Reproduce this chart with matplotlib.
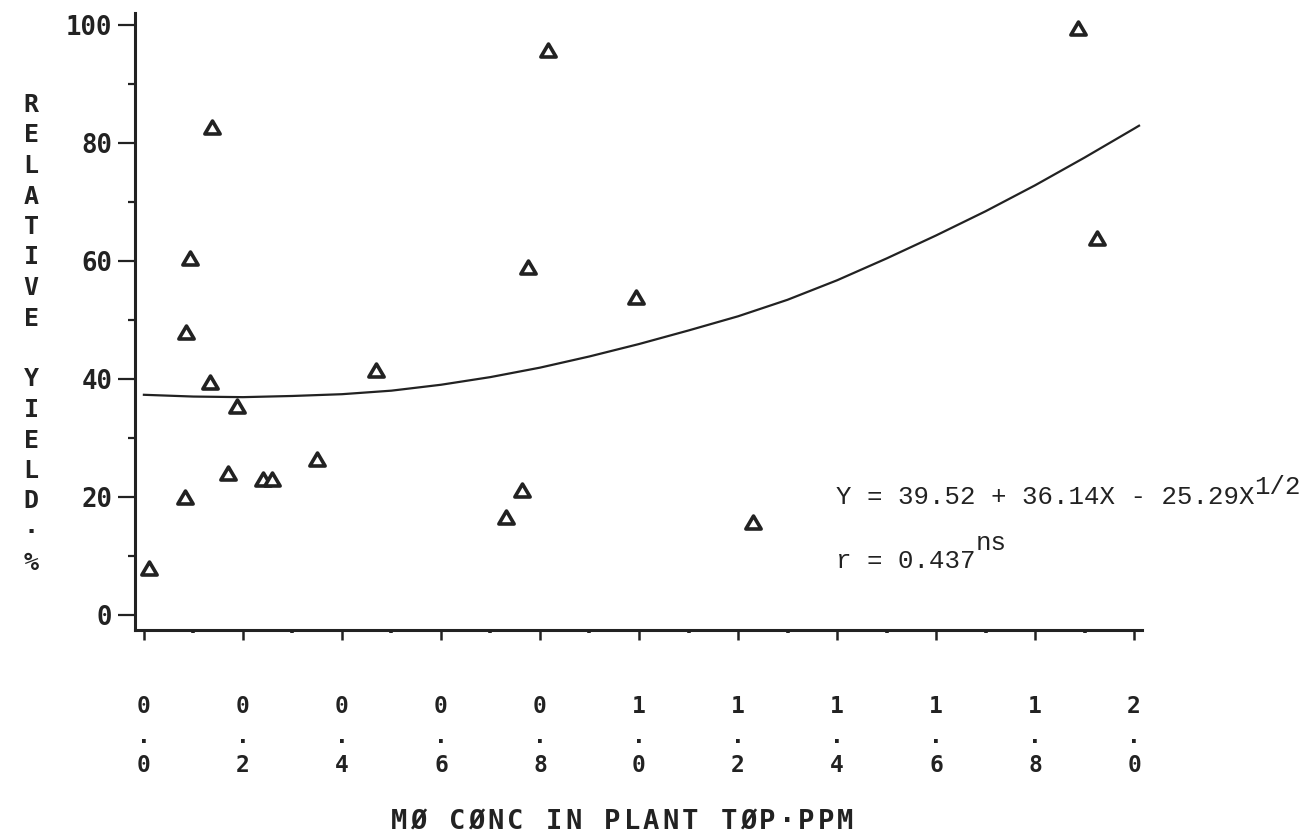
import matplotlib
matplotlib.use("Agg")
import matplotlib.pyplot as plt
from matplotlib.path import Path

# ---- data ----
mo_conc = [0.011, 0.083, 0.085, 0.094, 0.133, 0.137, 0.170, 0.188, 0.240, 0.258,
           0.349, 0.468, 0.732, 0.763, 0.775, 0.817, 0.993, 1.230, 1.886, 1.925]
rel_yield = [8.0, 20.0, 48.1, 60.5, 39.6, 82.8, 24.1, 35.5, 23.1, 23.1,
             26.5, 41.6, 16.7, 21.3, 59.0, 95.8, 54.0, 15.9, 99.5, 63.9]

fit_x = [0.0, 0.1, 0.2, 0.3, 0.4, 0.5, 0.6, 0.7, 0.8, 0.9, 1.0,
         1.1, 1.2, 1.3, 1.4, 1.5, 1.6, 1.7, 1.8, 1.9, 2.0, 2.01]
fit_y = [37.4, 37.1, 37.0, 37.2, 37.5, 38.1, 39.1, 40.4, 42.0, 43.9, 46.0,
         48.3, 50.7, 53.5, 56.8, 60.5, 64.4, 68.5, 72.9, 77.6, 82.5, 83.0]

x_ticks = [0.0, 0.2, 0.4, 0.6, 0.8, 1.0, 1.2, 1.4, 1.6, 1.8, 2.0]
x_minor = [0.1, 0.3, 0.5, 0.7, 0.9, 1.1, 1.3, 1.5, 1.7, 1.9]
y_ticks = [0, 20, 40, 60, 80, 100]
y_minor = [10, 30, 50, 70, 90]

y_label = "RELATIVE YIELD·%"
x_label = "MØ CØNC IN PLANT TØP·PPM"
eq_main = "Y = 39.52 + 36.14X - 25.29X"
eq_sup = "1/2"
r_main = "r = 0.437"
r_sup = "ns"

INK = "#222222"
W, H = 1313, 836
fig = plt.figure(figsize=(W / 100, H / 100), dpi=100)
ax = fig.add_axes([134.5 / W, 1 - 630 / H, (1142 - 134.5) / W, (630 - 13) / H])

ax.set_xlim(-0.019, 2.016)
ax.set_ylim(-2.46, 102.1)

for s in ("top", "right"):
    ax.spines[s].set_visible(False)
for s in ("left", "bottom"):
    ax.spines[s].set_linewidth(2.2)
    ax.spines[s].set_color(INK)

tri = Path([(0, 0.85), (-1, -0.85), (1, -0.85), (0, 0.85)],
           [Path.MOVETO, Path.LINETO, Path.LINETO, Path.CLOSEPOLY])
ax.plot(fit_x, fit_y, color=INK, lw=1.6, zorder=2)
ax.plot(mo_conc, rel_yield, linestyle="none", marker=tri, ms=11,
        mfc="white", mec=INK, mew=2.6, zorder=3)

mono = "DejaVu Sans Mono"
ax.set_yticks(y_ticks)
ax.set_yticklabels([str(v) for v in y_ticks], family=mono, fontweight="bold",
                   fontsize=18.5, color=INK)
ax.set_yticks(y_minor, minor=True)
ax.tick_params(axis="y", which="major", direction="out", length=12, width=1.6,
               color=INK, pad=4)
ax.tick_params(axis="y", which="minor", direction="out", length=5, width=1.6,
               color=INK)

ax.set_xticks(x_ticks)
ax.set_xticklabels(["\n".join(f"{v:.1f}") for v in x_ticks], family=mono,
                   fontweight="bold", fontsize=16.5, color=INK, linespacing=1.36)
ax.set_xticks(x_minor, minor=True)
ax.tick_params(axis="x", which="major", direction="out", length=7, width=1.8,
               color=INK, pad=40)
ax.tick_params(axis="x", which="minor", direction="out", length=2.5, width=2.6,
               color=INK)

# x axis title (plotter-style wide character spacing)
xl_center, xl_step = 622, 19.4
x0 = xl_center - (len(x_label) - 1) / 2 * xl_step
for i, ch in enumerate(x_label):
    fig.text((x0 + i * xl_step) / W, 1 - 822 / H, ch, ha="center", va="center",
             family=mono, fontweight="bold", fontsize=19.5, color=INK)

# stacked y axis title
top_y, step = 105, 30.5
for i, ch in enumerate(y_label):
    fig.text(31 / W, 1 - (top_y + i * step) / H, ch, ha="center", va="center",
             family=mono, fontweight="bold", fontsize=18, color=INK)

# equation annotation
serif = "Liberation Mono"
t1 = fig.text(836 / W, 1 - 504 / H, eq_main, ha="left", va="baseline",
              family=serif, fontsize=18.5, color=INK)
t2 = fig.text(836 / W, 1 - 568 / H, r_main, ha="left", va="baseline",
              family=serif, fontsize=18.5, color=INK)
fig.canvas.draw()
r = fig.canvas.get_renderer()
b1 = t1.get_window_extent(r)
b2 = t2.get_window_extent(r)
fig.text(b1.x1 / W, (H - 494) / H, eq_sup, ha="left", va="baseline",
         family=serif, fontsize=18.5, color=INK)
fig.text(b2.x1 / W, (H - 550) / H, r_sup, ha="left", va="baseline",
         family=serif, fontsize=18.5, color=INK)

fig.savefig("out.png", dpi=100, facecolor="white")
